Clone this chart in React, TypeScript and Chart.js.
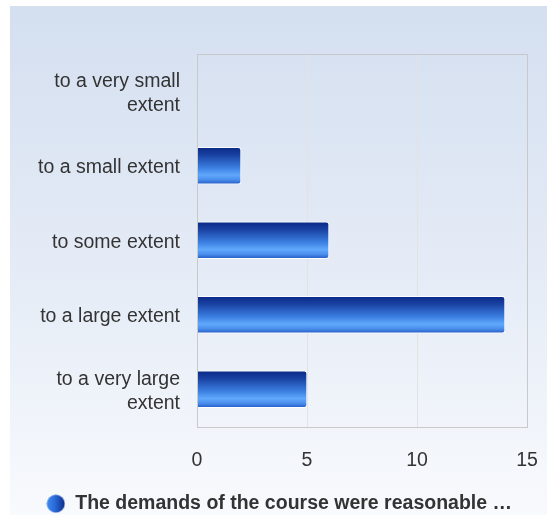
import React, { useEffect, useRef } from "react";
import { Chart, registerables } from "chart.js";

Chart.register(...registerables);

const categories: (string | string[])[] = [
  ["to a very small", "extent"],
  "to a small extent",
  "to some extent",
  "to a large extent",
  ["to a very large", "extent"],
];
const seriesLabel = "The demands of the course were reasonable …";
const seriesValues = [0, 2, 6, 14, 5];
const xMin = 0;
const xMax = 15;
const xStep = 5;

const FONT = "'Liberation Sans', Arial, Helvetica, sans-serif";
const TEXT = "#333333";
const FS = 19.5;

function makeLegendIcon(): HTMLCanvasElement {
  const c = document.createElement("canvas");
  c.width = 19;
  c.height = 19;
  const ctx = c.getContext("2d")!;
  const g = ctx.createLinearGradient(0, 0, 19, 0);
  g.addColorStop(0, "#3f8cf2");
  g.addColorStop(0.45, "#2a6ad8");
  g.addColorStop(1, "#0b2a86");
  ctx.fillStyle = g;
  ctx.beginPath();
  ctx.arc(9.5, 9.5, 9, 0, Math.PI * 2);
  ctx.fill();
  return c;
}

const bgPlugin = {
  id: "bgPlugin",
  beforeDraw(chart: any) {
    const { ctx, width, height } = chart;
    ctx.save();
    const g = ctx.createLinearGradient(0, 6, 0, height);
    g.addColorStop(0, "#d4dff0");
    g.addColorStop(0.5, "#e4ebf6");
    g.addColorStop(1, "#f8fafd");
    ctx.fillStyle = g;
    ctx.fillRect(10, 6, width - 10, height - 6);
    ctx.restore();
  },
  afterDraw(chart: any) {
    const { ctx, chartArea } = chart;
    ctx.save();
    ctx.strokeStyle = "#c9c9c9";
    ctx.lineWidth = 1;
    ctx.strokeRect(
      Math.round(chartArea.left) + 0.5,
      Math.round(chartArea.top) + 0.5,
      Math.round(chartArea.right - chartArea.left),
      Math.round(chartArea.bottom - chartArea.top)
    );
    ctx.restore();
  },
};

const shiftLegend = {
  id: "shiftLegend",
  afterLayout(chart: any) {
    const l = chart.legend;
    if (!l) return;
    const centre = (l.left + l.right) / 2;
    const dx = 279 - centre;
    l.left += dx;
    l.right += dx;
    const targetTop = 484;
    const dy = targetTop - l.top;
    l.top += dy;
    l.bottom += dy;
  },
};

export default function App() {
  const ref = useRef<HTMLCanvasElement | null>(null);
  useEffect(() => {
    if (!ref.current) return;
    const icon = makeLegendIcon();
    const chart = new Chart(ref.current, {
      type: "bar",
      data: {
        labels: categories,
        datasets: [
          {
            label: seriesLabel,
            data: seriesValues,
            backgroundColor: (context: any) => {
              const chart = context.chart;
              const y = chart.scales?.y;
              if (!y || !chart.chartArea) return "#2a64cc";
              const yc = y.getPixelForValue(context.dataIndex);
              const half = 18.5;
              const g = chart.ctx.createLinearGradient(0, yc - half, 0, yc + half);
              g.addColorStop(0, "#0a2886");
              g.addColorStop(0.2, "#1840a0");
              g.addColorStop(0.55, "#3a7ee0");
              g.addColorStop(0.75, "#60a8fc");
              g.addColorStop(0.88, "#4a8eec");
              g.addColorStop(1, "#2358c4");
              return g;
            },
            borderColor: "rgba(255,255,255,0.95)",
            borderWidth: 1,
            borderRadius: { topRight: 3, bottomRight: 3, topLeft: 0, bottomLeft: 0 },
            borderSkipped: "start",
            barThickness: 37,
          },
        ],
      },
      options: {
        indexAxis: "y",
        responsive: false,
        animation: false,
        layout: { padding: { left: 10, top: 54, right: 20, bottom: 0 } },
        scales: {
          x: {
            min: xMin,
            max: xMax,
            ticks: {
              stepSize: xStep,
              padding: 22,
              color: TEXT,
              font: { family: FONT, size: FS },
            },
            grid: { color: "#e3e3e3", drawTicks: false },
            border: { display: false },
            afterFit(scale: any) {
              scale.height = 49;
              scale.paddingLeft = 0;
              scale.paddingRight = 0;
            },
          },
          y: {
            ticks: {
              padding: 17,
              labelOffset: 2,
              color: TEXT,
              font: { family: FONT, size: FS, lineHeight: 1.23 },
            },
            grid: { display: false, drawTicks: false },
            border: { display: false },
            afterFit(scale: any) {
              scale.width = 187;
              scale.paddingTop = 0;
              scale.paddingBottom = 0;
            },
          },
        },
        plugins: {
          legend: {
            position: "bottom",
            labels: {
              usePointStyle: true,
              pointStyle: icon as any,
              color: TEXT,
              padding: 10,
              font: { family: FONT, size: FS, weight: "bold" },
              generateLabels: () => [
                {
                  text: seriesLabel,
                  pointStyle: icon,
                  fillStyle: "#2a64cc",
                  strokeStyle: "transparent",
                  lineWidth: 0,
                  fontColor: TEXT,
                  datasetIndex: 0,
                  hidden: false,
                },
              ],
            },
          },
          tooltip: { enabled: false },
        },
      },
      plugins: [bgPlugin, shiftLegend],
    } as any);
    return () => chart.destroy();
  }, []);
  return (
    <div style={{ position: "fixed", left: 0, top: 0, width: 547, height: 515 }}>
      <canvas ref={ref} width={547} height={515} style={{ display: "block" }} />
    </div>
  );
}
